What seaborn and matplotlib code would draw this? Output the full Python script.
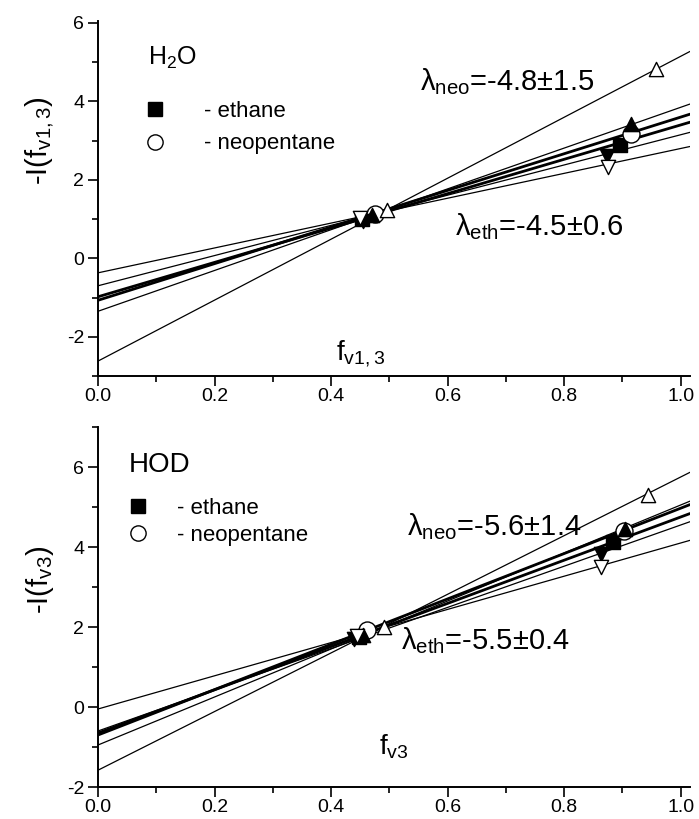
import numpy as np
import pandas as pd
import matplotlib
matplotlib.use("Agg")
import matplotlib.pyplot as plt
from matplotlib.lines import Line2D
import seaborn as sns

# ---------------- data ----------------
series_names = ["eth_sq", "neo_circ", "eth_up", "neo_up", "eth_down", "neo_down"]
series_marker = ["s", "o", "^", "^", "v", "v"]
series_filled = [True, False, True, False, True, False]
series_bold = [True, True, False, False, False, False]

# H2O panel
h2o_f_low = [0.453, 0.476, 0.470, 0.496, 0.455, 0.450]
h2o_I_low = [1.00, 1.13, 1.10, 1.24, 0.95, 1.02]
h2o_f_high = [0.896, 0.915, 0.914, 0.957, 0.874, 0.876]
h2o_I_high = [2.89, 3.17, 3.43, 4.83, 2.60, 2.34]
h2o_fit_at0 = [-0.98, -1.07, -1.35, -2.62, -0.70, -0.37]
h2o_fit_at1 = [3.40, 3.60, 3.85, 5.15, 3.15, 2.80]

# HOD panel
hod_f_low = [0.448, 0.462, 0.455, 0.490, 0.440, 0.445]
hod_I_low = [1.75, 1.92, 1.80, 2.00, 1.70, 1.78]
hod_f_high = [0.884, 0.903, 0.904, 0.944, 0.863, 0.864]
hod_I_high = [4.12, 4.41, 4.46, 5.30, 3.82, 3.50]
hod_fit_at0 = [-0.65, -0.70, -0.95, -1.58, -0.60, -0.05]
hod_fit_at1 = [4.75, 4.97, 5.05, 5.75, 4.55, 4.10]

x_ticks = [0.0, 0.2, 0.4, 0.6, 0.8, 1.0]
x_ticklabels = ["0.0", "0.2", "0.4", "0.6", "0.8", "1.0"]
y_ticks = [-2, 0, 2, 4, 6]

# ---------------- style ----------------
sns.set_style("ticks")
plt.rcParams["font.family"] = ["Liberation Sans", "DejaVu Sans"]
plt.rcParams["mathtext.fontset"] = "custom"
plt.rcParams["mathtext.rm"] = "Liberation Sans"
plt.rcParams["mathtext.it"] = "Liberation Sans:italic"
plt.rcParams["mathtext.bf"] = "Liberation Sans:bold"
plt.rcParams["axes.unicode_minus"] = False
plt.rcParams["text.color"] = "black"
plt.rcParams["axes.labelcolor"] = "black"

XMAX = 1.016
fig = plt.figure(figsize=(6.99, 8.19), dpi=100)
ax1 = fig.add_axes([98/699, 1-376/819, (690-98)/699, (376-21)/819])
ax2 = fig.add_axes([98/699, 1-787/819, (690-98)/699, (787-427)/819])


def draw_panel(ax, f_low, I_low, f_high, I_high, fit0, fit1, ylim):
    for i, name in enumerate(series_names):
        slope = fit1[i] - fit0[i]
        xs = np.array([0.0, XMAX])
        line_df = pd.DataFrame({"f": xs, "I": fit0[i] + slope * xs})
        sns.lineplot(data=line_df, x="f", y="I", ax=ax, color="black",
                     lw=2.0 if series_bold[i] else 0.9, legend=False, zorder=2)
    for i, name in enumerate(series_names):
        pts = pd.DataFrame({"f": [f_low[i], f_high[i]], "I": [I_low[i], I_high[i]]})
        mk = series_marker[i]
        size = 150 if mk == "o" else (115 if mk == "s" else 105)
        sns.scatterplot(data=pts, x="f", y="I", ax=ax, marker=mk, s=size,
                        color="black" if series_filled[i] else "white",
                        edgecolor="black", linewidth=1.0, legend=False, zorder=3)
    ax.set_xlim(0, XMAX)
    ax.set_ylim(*ylim)
    ax.set_xticks(x_ticks)
    ax.set_xticklabels(x_ticklabels)
    ax.set_xticks(np.arange(0.1, 1.0, 0.2), minor=True)
    ax.set_yticks(y_ticks)
    ax.set_yticks(np.arange(np.ceil(ylim[0]), ylim[1] + 0.01, 1), minor=True)
    ax.tick_params(axis="both", which="major", direction="out", length=7,
                   width=1.2, labelsize=14, color="black", labelcolor="black",
                   pad=3)
    ax.tick_params(axis="x", which="major", pad=2)
    ax.tick_params(axis="both", which="minor", direction="out", length=4,
                   width=1.2, color="black")
    for s in ["top", "right"]:
        ax.spines[s].set_visible(False)
    for s in ["left", "bottom"]:
        ax.spines[s].set_color("black")
        ax.spines[s].set_linewidth(1.4)
    ax.set_xlabel("")
    ax.set_ylabel("")


draw_panel(ax1, h2o_f_low, h2o_I_low, h2o_f_high, h2o_I_high,
           h2o_fit_at0, h2o_fit_at1, (-3, 6.05))
draw_panel(ax2, hod_f_low, hod_I_low, hod_f_high, hod_I_high,
           hod_fit_at0, hod_fit_at1, (-2, 7))

# legends
def add_legend(ax, anchor, spacing, pad):
    handles = [
        Line2D([], [], marker="s", ls="none", color="black", markersize=10,
               markerfacecolor="black", markeredgecolor="black"),
        Line2D([], [], marker="o", ls="none", color="black", markersize=11,
               markerfacecolor="white", markeredgecolor="black", markeredgewidth=1.0),
    ]
    ax.legend(handles, ["- ethane", "- neopentane"], loc="upper left",
              bbox_to_anchor=anchor, frameon=False, fontsize=16,
              handlelength=1.0, handletextpad=pad, labelspacing=spacing,
              borderpad=0, borderaxespad=0)

add_legend(ax1, (0.078, 0.775), 0.52, 1.7)
add_legend(ax2, (0.048, 0.804), 0.30, 1.26)

# texts
ax1.text(0.085, 5.1, "H$_{\\rm 2}$O", fontsize=18, va="center", ha="left")
ax2.text(0.052, 6.05, "HOD", fontsize=20, va="center", ha="left")

ax1.text(0.552, 4.5, "\u03bb$_{\\rm neo}$=-4.8\u00b11.5", fontsize=21,
         ha="left", va="center")
ax1.text(0.612, 0.8, "\u03bb$_{\\rm eth}$=-4.5\u00b10.6", fontsize=21,
         ha="left", va="center")
ax2.text(0.53, 4.5, "\u03bb$_{\\rm neo}$=-5.6\u00b11.4", fontsize=21,
         ha="left", va="center")
ax2.text(0.52, 1.66, "\u03bb$_{\\rm eth}$=-5.5\u00b10.4", fontsize=21,
         ha="left", va="center")

ax1.text(0.45, -2.42, "f$_{\\rm v1,3}$", fontsize=20, ha="center", va="center")
ax2.text(0.508, -0.99, "f$_{\\rm v3}$", fontsize=20, ha="center", va="center")

fig.text(40/699, 1-141/819, "-I(f$_{\\rm v1,3}$)", rotation=90, fontsize=21,
         ha="center", va="center")
fig.text(40/699, 1-580/819, "-I(f$_{\\rm v3}$)", rotation=90, fontsize=21,
         ha="center", va="center")

fig.savefig("out.png", dpi=100)
